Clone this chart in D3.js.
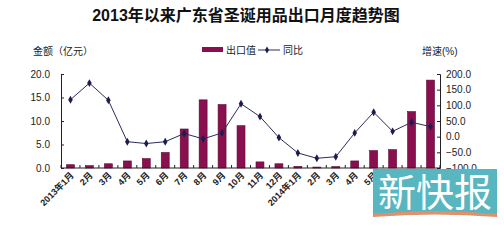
<!doctype html>
<html>
<head>
<meta charset="utf-8">
<title>2013年以来广东省圣诞用品出口月度趋势图</title>
<script src="https://d3js.org/d3.v7.min.js"></script>
<style>
  body { margin: 0; background: #fff; font-family: "Liberation Sans", Arial, "Noto Sans CJK SC", sans-serif; }
  .axis text { font-size: 10px; fill: #222; }
  .axis path, .axis line { stroke: #222; }
</style>
</head>
<body>
<div id="plot"></div>
<script>
// months shown on the x axis
const months = ["2013年1月","2月","3月","4月","5月","6月","7月","8月","9月","10月","11月","12月",
                "2014年1月","2月","3月","4月","5月","6月","7月","8月"];
// export value (亿元)
const exportValue = [0.7,0.5,0.9,1.5,2.0,3.3,8.3,14.5,13.5,9.0,1.3,0.9,0.35,0.2,0.3,1.5,3.7,3.9,12.0,18.7];
// year-on-year growth (%)
const growth = [118,171,116,-16,-22,-16,10,-7,12,105,64,-3,-52,-69,-64,12,78,17,46,32];
const leftTicks = [0,5,10,15,20];
const rightTicks = [-100,-50,0,50,100,150,200];

const W = 504, H = 240;
const margin = {top: 74, right: 64, bottom: 72, left: 61};
const width = W - margin.left - margin.right,
      height = H - margin.top - margin.bottom;

const svg = d3.select("#plot").append("svg")
  .attr("width", W).attr("height", H);

const g = svg.append("g")
  .attr("transform", `translate(${margin.left},${margin.top})`);

const x = d3.scaleBand().domain(d3.range(months.length)).range([0, width]).paddingInner(0.58).paddingOuter(0.29);
const yL = d3.scaleLinear().domain([0, 20]).range([height, 0]);
const yR = d3.scaleLinear().domain([-100, 200]).range([height, 0]);

// bars
g.selectAll("rect.bar")
  .data(exportValue)
  .join("rect")
    .attr("class", "bar")
    .attr("x", (d, i) => x(i))
    .attr("y", d => yL(d))
    .attr("width", x.bandwidth())
    .attr("height", d => height - yL(d))
    .attr("fill", "#8a0f4f")
    .attr("stroke", "#5a0a34")
    .attr("stroke-width", 0.6);

// axes
g.append("g").attr("class", "axis")
  .call(d3.axisLeft(yL).tickValues(leftTicks).tickFormat(d3.format(".1f")).tickSizeInner(-3).tickSizeOuter(-3).tickPadding(11));

g.append("g").attr("class", "axis")
  .attr("transform", `translate(${width},0)`)
  .call(d3.axisRight(yR).tickValues(rightTicks).tickFormat(d3.format(".1f")).tickSizeInner(-3).tickSizeOuter(-3).tickPadding(6));

// bottom axis: ticks between months, pointing inward
const step = x.step();
const xb = g.append("g").attr("class", "axis").attr("transform", `translate(0,${height})`);
xb.append("line").attr("x1", 0).attr("x2", width).attr("stroke", "#222");
xb.selectAll("line.tk")
  .data(d3.range(months.length + 1))
  .join("line")
    .attr("class", "tk")
    .attr("x1", i => i * step).attr("x2", i => i * step)
    .attr("y1", 0).attr("y2", -3)
    .attr("stroke", "#222");
xb.selectAll("text")
  .data(months)
  .join("text")
    .attr("transform", (d, i) => `translate(${x(i) + x.bandwidth() / 2 + 4},8) rotate(-45)`)
    .attr("text-anchor", "end")
    .style("font-size", "9px")
    .style("font-weight", "bold")
    .style("fill", "#222")
    .text(d => d);

// growth line
const line = d3.line()
  .x((d, i) => x(i) + x.bandwidth() / 2)
  .y(d => yR(d));

g.append("path")
  .datum(growth)
  .attr("fill", "none")
  .attr("stroke", "#2b2b5e")
  .attr("stroke-width", 1)
  .attr("d", line);

g.selectAll("path.dot")
  .data(growth)
  .join("path")
    .attr("class", "dot")
    .attr("d", d3.symbol(d3.symbolDiamond, 18))
    .attr("transform", (d, i) => `translate(${x(i) + x.bandwidth() / 2},${yR(d)})`)
    .attr("fill", "#1c1c50");

// title
svg.append("text")
  .attr("x", 246).attr("y", 21)
  .attr("text-anchor", "middle")
  .style("font-size", "16px")
  .style("font-weight", "bold")
  .style("fill", "#111")
  .text("2013年以来广东省圣诞用品出口月度趋势图");

// axis titles
svg.append("text").attr("x", 33).attr("y", 55)
  .style("font-size", "10px").style("fill", "#222").text("金额（亿元）");
svg.append("text").attr("x", 422).attr("y", 55)
  .style("font-size", "10px").style("fill", "#222").text("增速(%)");

// legend
const lg = svg.append("g");
lg.append("rect").attr("x", 202).attr("y", 47).attr("width", 21).attr("height", 5).attr("fill", "#8a0f4f");
lg.append("text").attr("x", 226).attr("y", 54).style("font-size", "10px").style("fill", "#222").text("出口值");
lg.append("line").attr("x1", 258).attr("x2", 280).attr("y1", 50).attr("y2", 50).attr("stroke", "#2b2b5e");
lg.append("path").attr("d", d3.symbol(d3.symbolDiamond, 14)).attr("transform", "translate(267,50)").attr("fill", "#1c1c50");
lg.append("text").attr("x", 283).attr("y", 54).style("font-size", "10px").style("fill", "#222").text("同比");

// watermark
const wm = svg.append("g");
wm.append("rect").attr("x", 373).attr("y", 169).attr("width", 124).attr("height", 45).attr("fill", "#58b6c0");
wm.append("path").attr("d", "M373,214 Q435,208 497,214 L497,217 Q435,212 373,217 Z").attr("fill", "#e0906a");
wm.append("text").attr("x", 435).attr("y", 206).attr("text-anchor", "middle")
  .style("font-size", "38px").style("fill", "#fff")
  .style("font-family", "'Noto Sans CJK SC', sans-serif")
  .text("新快报");
</script>
</body>
</html>
